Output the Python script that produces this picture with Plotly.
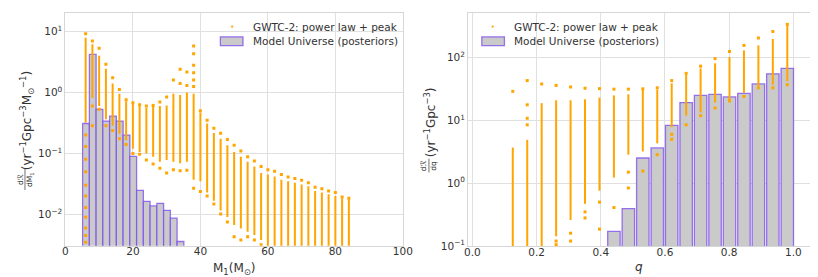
import plotly.graph_objects as go

# ---------------- Left panel data (primary mass) ----------------
m1_bar_centers = [6.1, 8.1, 10.1, 12.1, 14.1, 16.1, 18.1, 20.1, 22.1, 24.1, 26.1, 28.1, 30.1, 32.1, 34.1]
m1_bar_values = [0.31, 4.2, 0.53, 0.34, 0.41, 0.34, 0.20, 0.0895, 0.0249, 0.0164, 0.0138, 0.0152, 0.0117, 0.0087, 0.0036]

m1_cols = [6, 8, 10, 12, 14, 16, 18, 20, 22, 24, 26, 28, 30, 32, 34, 36, 38, 40, 42, 44,
           46, 48, 50, 52, 54, 56, 58, 60, 62, 64, 66, 68, 70, 72, 74, 76, 78, 80, 82, 84]
m1_top = [9.2, 7.0, 5.3, 2.9, 1.74, 1.12, 0.76, 0.68, 0.63, 0.60, 0.61, 0.70, 0.84, 1.6, 2.4, 2.17, 5.8, 0.50, 0.35, 0.26,
          0.215, 0.17, 0.136, 0.11, 0.0885, 0.075, 0.061, 0.054, 0.051, 0.045, 0.041, 0.0388, 0.0364, 0.033, 0.0278, 0.0265, 0.0243, 0.0228, 0.0194, 0.0185]
m1_dense_hi = [7.9, 6.2, 4.0, 2.46, 1.41, 0.95, 0.72, 0.66, 0.60, 0.56, 0.58, 0.60, 0.61, 0.95, 0.91, 1.0, 0.95, 0.47, 0.31, 0.217,
               0.174, 0.136, 0.106, 0.0885, 0.073, 0.061, 0.048, 0.045, 0.042, 0.037, 0.035, 0.033, 0.031, 0.029, 0.0243, 0.0228, 0.0215, 0.020, 0.0185, 0.0178]
m1_dense_lo = [0.32, 0.81, 0.6, 0.365, 0.285, 0.21, 0.164, 0.12, 0.106, 0.1, 0.0885, 0.073, 0.078, 0.073, 0.069, 0.073, 0.037, 0.035, 0.0228, 0.0168,
               0.0116, 0.0091, 0.0067, 0.0059, 0.0052, 0.0046, 0.0038, 0.002, 0.002, 0.002, 0.002, 0.002, 0.002, 0.002, 0.002, 0.002, 0.002, 0.002, 0.002, 0.002]
m1_extra = [[0.2, 0.13, 0.08, 0.05, 0.03, 0.02, 0.013, 0.009, 0.006, 0.0045, 0.0035],
            [0.6, 0.285], [0.53], [0.285], [0.237], [0.174], [0.14], [0.1], [0.097], [0.078],
            [0.067], [0.057], [0.048], [0.054], [1.4, 0.052], [1.3, 0.053], [4.3, 2.8, 2.1, 1.6, 1.25, 0.027], [0.0237], [0.020], [0.0148],
            [0.0102], [0.0075], [0.0043], [0.0038], [0.0043], [0.0038], [0.0032], [], [], [],
            [], [], [], [], [], [], [], [], [], []]

# ---------------- Right panel data (mass ratio) ----------------
q_bar_centers = [0.441, 0.486, 0.531, 0.576, 0.621, 0.666, 0.711, 0.756, 0.801, 0.846, 0.891, 0.936, 0.981]
q_bar_values = [0.171, 0.395, 2.52, 3.65, 8.3, 19.2, 25.0, 25.9, 23.6, 26.9, 38.0, 55.0, 67.4]

q_cols = [0.126, 0.171, 0.216, 0.261, 0.306, 0.351, 0.396, 0.441, 0.486, 0.531,
          0.576, 0.621, 0.666, 0.711, 0.756, 0.801, 0.846, 0.891, 0.936, 0.981]
q_top = [29, 43, 38, 36, 34, 32.5, 32, 31.4, 31.4, 31.8, 33, 43, 56, 73, 96, 125, 156, 205, 260, 338]
q_dense_hi = [3.7, 4.9, 18.8, 20.9, 20.9, 21.7, 23, 25, 26, 31, 31, 39, 53, 67, 81, 102, 130, 156, 198, 330]
q_dense_lo = [0.05, 0.05, 0.05, 0.143, 0.26, 0.47, 0.76, 1.23, 2.85, 3.2, 4.3, 7.8, 11.9, 13.4, 19.2, 20.4, 27.5, 35, 37, 42]
q_extra = [[], [17.7, 10.8, 8.5], [], [0.12, 0.105], [0.16, 0.12], [0.28, 0.35], [0.186, 0.5], [0.41], [0.84, 1.5], [1.56],
           [2.85], [5.0, 6.0], [8.5], [11.9], [15.7], [20.4], [24], [33], [33], [37]]

LABEL_PTS = "GWTC-2: power law + peak"
LABEL_BAR = "Model Universe (posteriors)"

ORANGE = "#FFA500"
BAR_FILL = "#cacaca"
BAR_EDGE = "rgba(122,72,238,0.75)"
FONT = "DejaVu Sans"
TXT = "#333333"


def seg(xs, lo, hi):
    X, Y = [], []
    for x, a, b in zip(xs, lo, hi):
        X += [x, x, None]
        Y += [a, b, None]
    return X, Y


def pts(xs, top, extra):
    X, Y = [], []
    for x, t, e in zip(xs, top, extra):
        for v in [t] + list(e):
            X.append(x)
            Y.append(v)
    return X, Y


fig = go.Figure()

# Left panel
fig.add_trace(go.Bar(x=m1_bar_centers, y=m1_bar_values, width=[2.0] * len(m1_bar_centers),
                     marker=dict(color=BAR_FILL, line=dict(color=BAR_EDGE, width=1.3)),
                     name=LABEL_BAR, showlegend=False, xaxis="x", yaxis="y"))
lx, ly = seg(m1_cols, m1_dense_lo, m1_dense_hi)
fig.add_trace(go.Scatter(x=lx, y=ly, mode="lines", line=dict(color=ORANGE, width=2),
                         showlegend=False, hoverinfo="skip", xaxis="x", yaxis="y"))
px_, py_ = pts(m1_cols, m1_top, m1_extra)
fig.add_trace(go.Scatter(x=px_, y=py_, mode="markers", marker=dict(color=ORANGE, size=3, symbol="square"),
                         name=LABEL_PTS, showlegend=False, xaxis="x", yaxis="y"))

# Right panel
fig.add_trace(go.Bar(x=q_bar_centers, y=q_bar_values, width=[0.0388] * len(q_bar_centers),
                     marker=dict(color=BAR_FILL, line=dict(color=BAR_EDGE, width=1.3)),
                     name=LABEL_BAR, showlegend=False, xaxis="x2", yaxis="y2"))
rx, ry = seg(q_cols, q_dense_lo, q_dense_hi)
fig.add_trace(go.Scatter(x=rx, y=ry, mode="lines", line=dict(color=ORANGE, width=2),
                         showlegend=False, hoverinfo="skip", xaxis="x2", yaxis="y2"))
qx_, qy_ = pts(q_cols, q_top, q_extra)
fig.add_trace(go.Scatter(x=qx_, y=qy_, mode="markers", marker=dict(color=ORANGE, size=3, symbol="square"),
                         name=LABEL_PTS, showlegend=False, xaxis="x2", yaxis="y2"))

W, H = 818, 277


def px(x):
    return x / W


def py(y):
    return (H - y) / H


axis_common = dict(showgrid=True, gridcolor="#e0e0e0", gridwidth=1, showline=True, linecolor="#d6d6d6",
                   linewidth=1, mirror=True, ticks="", zeroline=False,
                   tickfont=dict(family=FONT, size=10.5, color=TXT))

fig.update_layout(
    width=W, height=H, margin=dict(l=0, r=0, t=0, b=0),
    paper_bgcolor="white", plot_bgcolor="white", barmode="overlay", showlegend=False,
    font=dict(family=FONT, size=10.5, color=TXT),
    xaxis=dict(domain=[px(54.33), px(397.67)], range=[0, 100], tickvals=[0, 20, 40, 60, 80, 100],
               anchor="y", ticklabelstandoff=-4, **axis_common),
    yaxis=dict(domain=[py(243), py(5)], type="log", range=[-2.513, 1.305],
               tickvals=[0.01, 0.1, 1, 10],
               ticktext=["10<sup>−2</sup>", "10<sup>−1</sup>", "10<sup>0</sup>", "10<sup>1</sup>"],
               anchor="x", **axis_common),
    xaxis2=dict(domain=[px(464), px(813)], range=[-0.0133, 1.0551], tickvals=[0, 0.2, 0.4, 0.6, 0.8, 1.0],
                ticktext=["0.0", "0.2", "0.4", "0.6", "0.8", "1.0"], anchor="y2", ticklabelstandoff=-4,
                **axis_common),
    yaxis2=dict(domain=[py(243.3), py(5)], type="log", range=[-1, 2.711],
                tickvals=[0.1, 1, 10, 100],
                ticktext=["10<sup>−1</sup>", "10<sup>0</sup>", "10<sup>1</sup>", "10<sup>2</sup>"],
                anchor="x2", **axis_common),
)

ann = []


def txt(x, y, text, size, angle=0, xanchor="center"):
    ann.append(dict(x=px(x), y=py(y), xref="paper", yref="paper", text=text, textangle=angle,
                    xanchor=xanchor, yanchor="middle", showarrow=False,
                    font=dict(family=FONT, size=size, color=TXT)))


# Left y label
txt(13, 175, "dℛ<br>dM<sub>1</sub>", 7.5, -90)
txt(15, 115, "(yr<sup>−1</sup>Gpc<sup>−3</sup>M<sub>⊙</sub><sup>−1</sup>)", 12, -90)
# Right y label
txt(424, 161, "dℛ<br>dq", 7.5, -90)
txt(426, 117, "(yr<sup>−1</sup>Gpc<sup>−3</sup>)", 12, -90)
# X labels
txt(226, 267, "M<sub>1</sub>(M<sub>⊙</sub>)", 12)
txt(638, 265, "<i>q</i>", 12)

shapes = [
    dict(type="line", xref="paper", yref="paper", x0=px(13.2), x1=px(13.2), y0=py(164), y1=py(186),
         line=dict(color=TXT, width=0.7)),
    dict(type="line", xref="paper", yref="paper", x0=px(424.2), x1=px(424.2), y0=py(154), y1=py(168),
         line=dict(color=TXT, width=0.7)),
]

# Manual legends (left: upper right area, right: upper left area)
for dot_x, patch_x0, text_x in [(224, 212, 243), (489, 478, 509)]:
    shapes.append(dict(type="rect", xref="paper", yref="paper", x0=px(dot_x - 1), x1=px(dot_x + 1),
                       y0=py(20), y1=py(18), fillcolor=ORANGE, line=dict(width=0)))
    shapes.append(dict(type="rect", xref="paper", yref="paper", x0=px(patch_x0), x1=px(patch_x0 + 23),
                       y0=py(38.5), y1=py(29.5), fillcolor=BAR_FILL, line=dict(color=BAR_EDGE, width=1.3)))
    txt(text_x, 19, LABEL_PTS, 10.5, 0, "left")
    txt(text_x, 34, LABEL_BAR, 10.5, 0, "left")

fig.update_layout(annotations=ann, shapes=shapes)

fig.write_html("out.html")
